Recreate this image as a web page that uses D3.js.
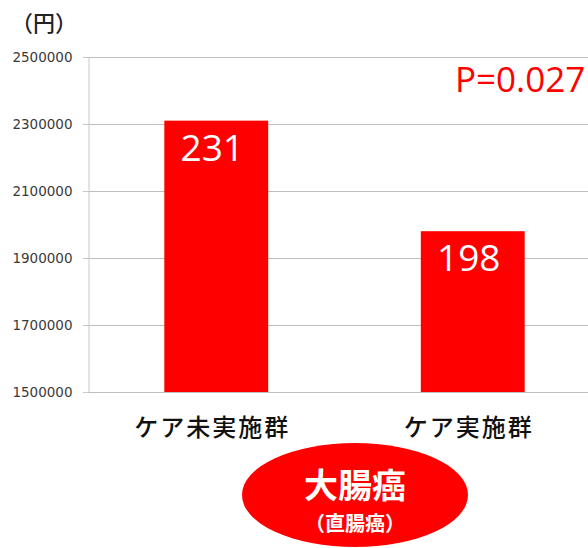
<!DOCTYPE html>
<html>
<head>
<meta charset="utf-8">
<script src="https://cdn.jsdelivr.net/npm/d3@7"></script>
<style>
  body { margin: 0; background: #fff; }
  svg { display: block; }
</style>
</head>
<body>
<div id="chart"></div>
<script>
// data
var categories = ["ケア未実施群", "ケア実施群"];
var costs = [2310000, 1980000];
var barLabels = ["231", "198"];
var yTicks = [1500000, 1700000, 1900000, 2100000, 2300000, 2500000];
var unitLabel = "（円）";
var pLabel = "P=0.027";
var groupTitle = ["大腸癌", "（直腸癌）"];

var width = 588, height = 548;

//Make an SVG Container
var svg = d3.select("#chart").append("svg")
            .attr("width", width)
            .attr("height", height);

var x = d3.scaleBand()
          .domain(categories)
          .range([88, 601])
          .paddingInner(0.595)
          .paddingOuter(0.2975);

var y = d3.scaleLinear()
          .domain([1500000, 2500000])
          .range([392, 57]);

// gridlines
svg.append("g")
   .selectAll("line")
   .data(yTicks)
   .enter()
   .append("line")
   .attr("x1", 83)
   .attr("x2", width)
   .attr("y1", d => Math.round(y(d)) + 0.5)
   .attr("y2", d => Math.round(y(d)) + 0.5)
   .attr("stroke", "#bdbdbd")
   .attr("stroke-width", 1);

// y axis
var yAxis = svg.append("g")
   .attr("transform", "translate(88.5,0)")
   .call(d3.axisLeft(y).tickValues(yTicks).tickSize(5).tickPadding(11).tickFormat(d3.format("d")));

yAxis.select(".domain").attr("stroke", "#c8c8c8");
yAxis.selectAll(".tick line").attr("stroke", "#c8c8c8");
yAxis.selectAll(".tick text")
     .attr("fill", "#3a3a3a")
     .style("font-family", "'DejaVu Sans', sans-serif")
     .style("font-size", "13.5px");

// bars
svg.append("g")
   .selectAll("rect")
   .data(costs)
   .enter()
   .append("rect")
   .attr("x", (d, i) => x(categories[i]))
   .attr("y", d => y(d))
   .attr("width", x.bandwidth())
   .attr("height", d => y(1500000) - y(d))
   .attr("fill", "#ff0000");

// value labels in bars
svg.append("g")
   .selectAll("text")
   .data(costs)
   .enter()
   .append("text")
   .attr("x", (d, i) => x(categories[i]) + x.bandwidth() / 2 - 4)
   .attr("y", d => y(d) + 40)
   .attr("text-anchor", "middle")
   .attr("fill", "#fff")
   .style("font-family", "'Open Sans', 'Liberation Sans', sans-serif")
   .style("font-size", "37px")
   .text((d, i) => barLabels[i]);

// category labels
svg.append("g")
   .selectAll("text")
   .data(categories)
   .enter()
   .append("text")
   .attr("x", d => x(d) + x.bandwidth() / 2 - 4)
   .attr("y", 436)
   .attr("text-anchor", "middle")
   .attr("fill", "#111")
   .style("font-family", "'Noto Sans CJK JP', sans-serif")
   .style("font-size", "24px")
   .style("font-weight", "500")
   .style("letter-spacing", "2px")
   .text(d => d);

// unit
svg.append("text")
   .attr("x", 44)
   .attr("y", 31)
   .attr("text-anchor", "middle")
   .attr("fill", "#222")
   .style("font-family", "'Noto Sans CJK JP', sans-serif")
   .style("font-size", "22px")
   .style("font-weight", "500")
   .text(unitLabel);

// p value
svg.append("text")
   .attr("x", 455)
   .attr("y", 92)
   .attr("fill", "#ff0000")
   .style("font-family", "'Open Sans', 'Liberation Sans', sans-serif")
   .style("font-size", "35px")
   .text(pLabel);

// group badge
svg.append("ellipse")
   .attr("cx", 355)
   .attr("cy", 495)
   .attr("rx", 113)
   .attr("ry", 52)
   .attr("fill", "#ff0000");

svg.append("text")
   .attr("x", 355)
   .attr("y", 498)
   .attr("text-anchor", "middle")
   .attr("fill", "#fff")
   .style("font-family", "'Noto Sans CJK JP', sans-serif")
   .style("font-size", "34px")
   .style("font-weight", "bold")
   .text(groupTitle[0]);

svg.append("text")
   .attr("x", 355)
   .attr("y", 531)
   .attr("text-anchor", "middle")
   .attr("fill", "#fff")
   .style("font-family", "'Noto Sans CJK JP', sans-serif")
   .style("font-size", "20px")
   .style("font-weight", "bold")
   .text(groupTitle[1]);
</script>
</body>
</html>
